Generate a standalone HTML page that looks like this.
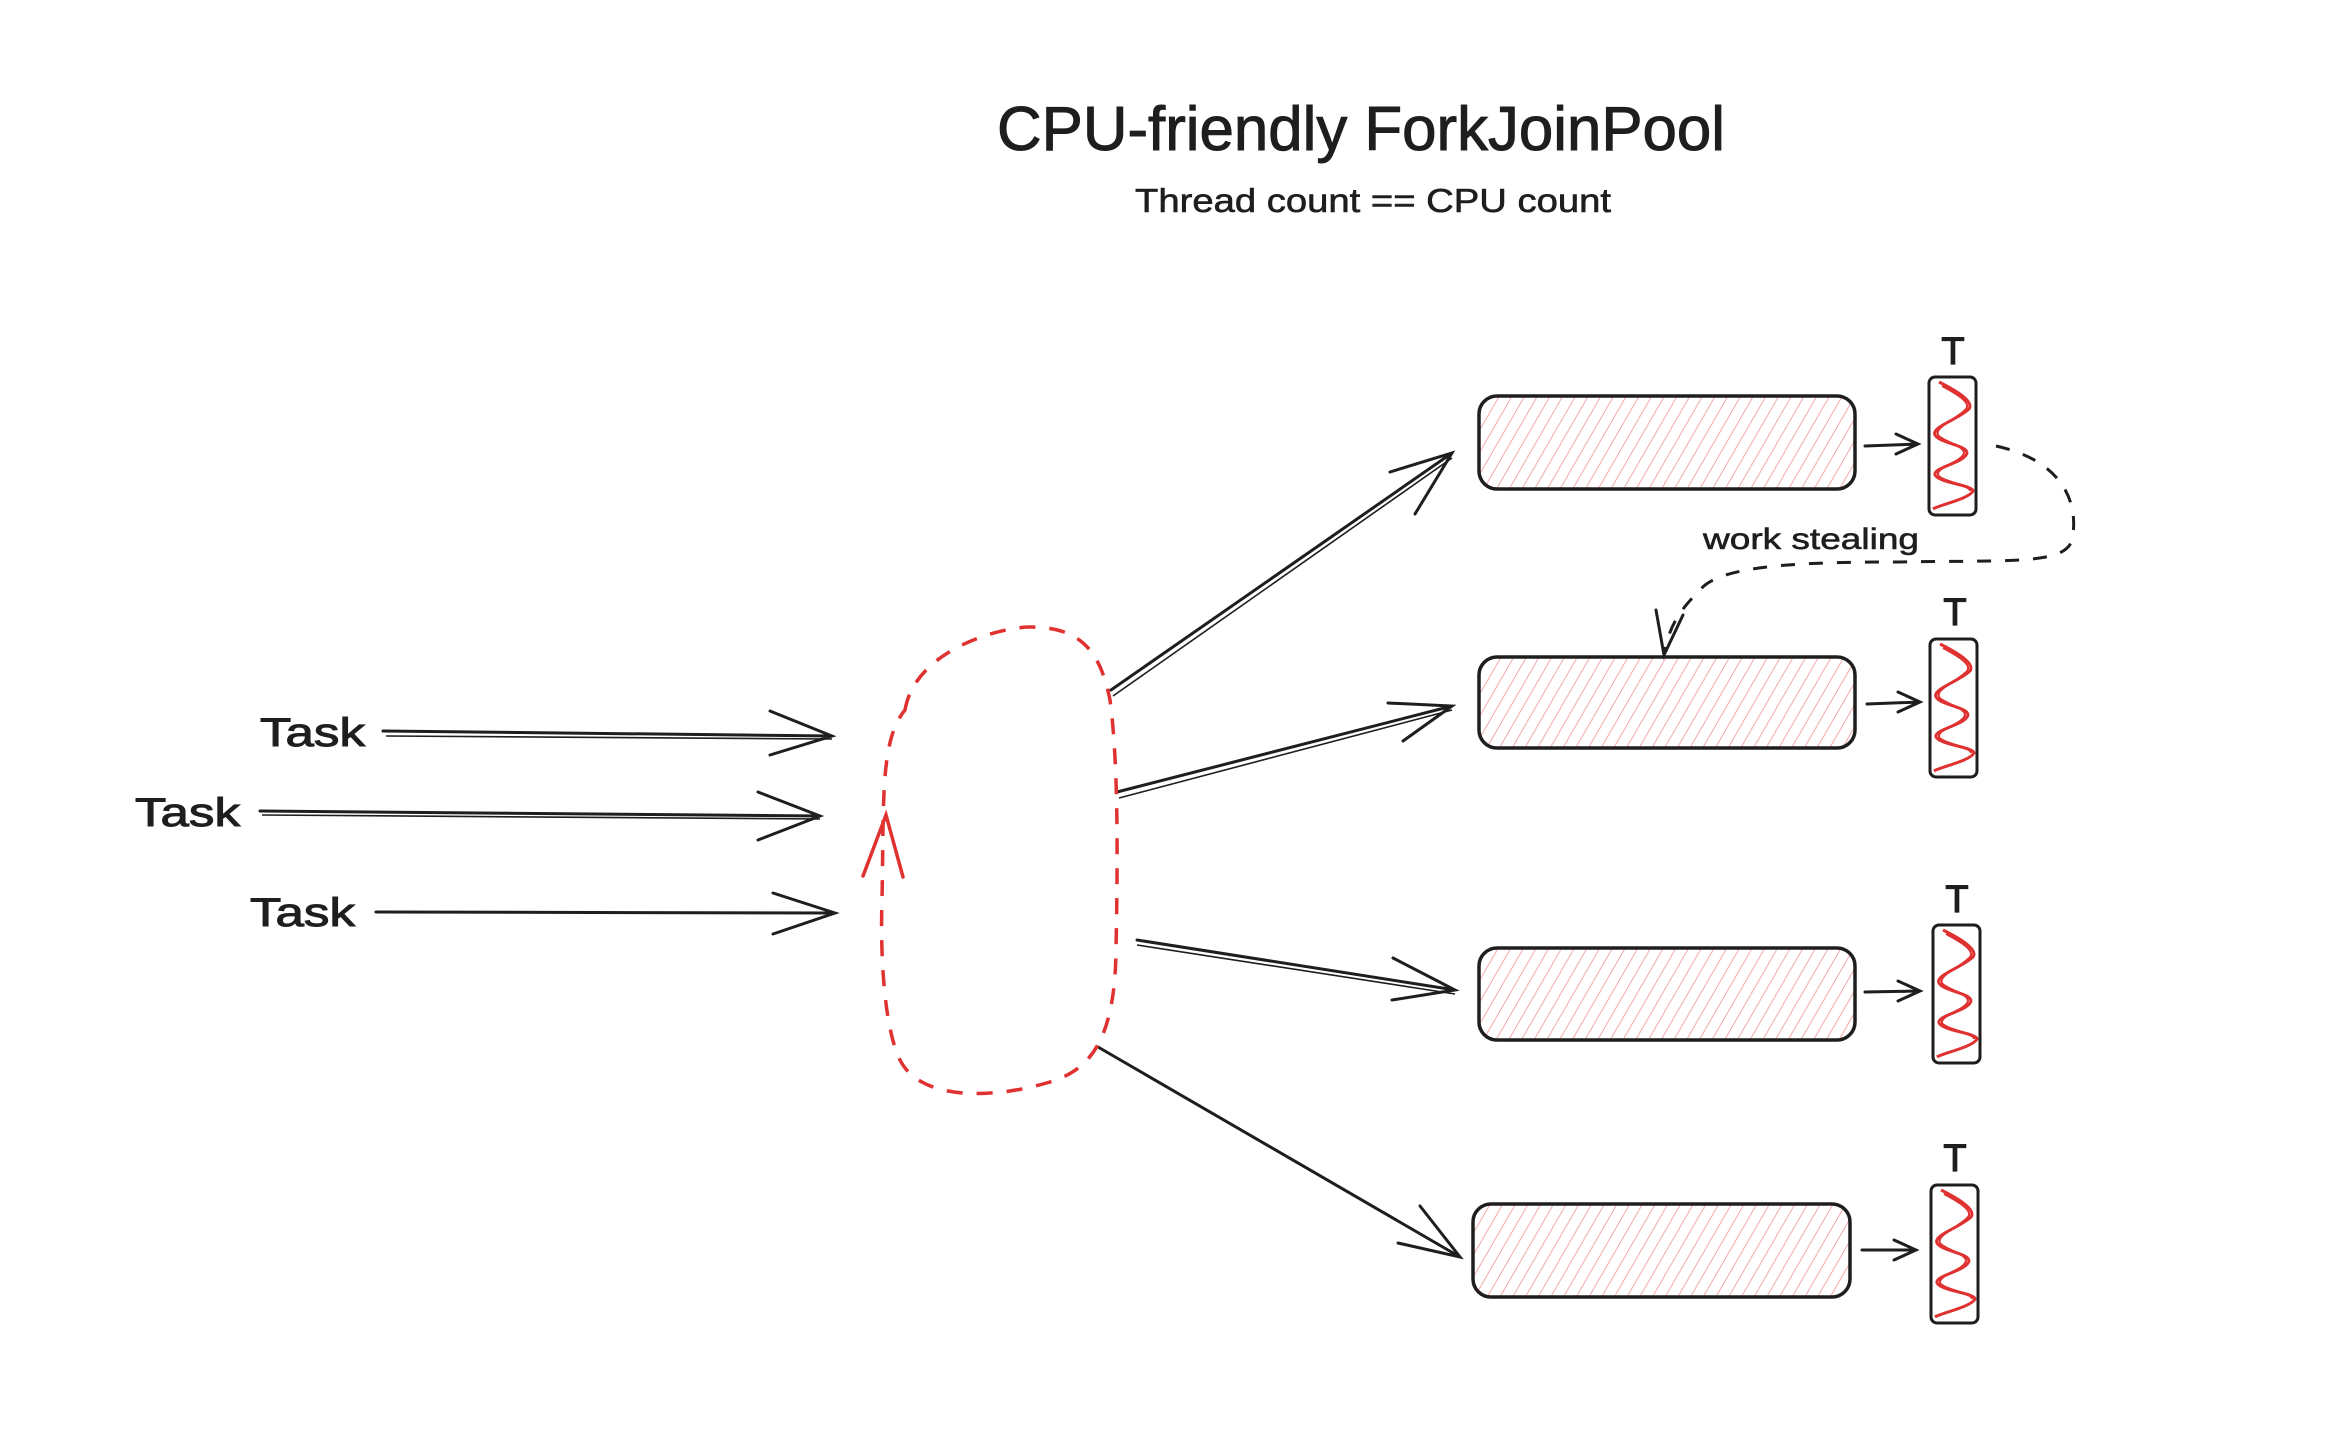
<!DOCTYPE html>
<html><head><meta charset="utf-8"><style>
html,body{margin:0;padding:0;background:#fff}
svg{display:block}
text{font-family:"Liberation Sans",sans-serif;fill:#1e1e1e}
</style></head><body>
<svg width="2344" height="1454" viewBox="0 0 2344 1454" xmlns="http://www.w3.org/2000/svg">
<defs>
<pattern id="h" width="11" height="11" patternUnits="userSpaceOnUse" patternTransform="rotate(30)">
<line x1="0" y1="0" x2="0" y2="11" stroke="#f3a9a9" stroke-width="2"/>
</pattern>
<g id="thr">
<rect x="0" y="0" width="47" height="138" rx="6" fill="#fff" stroke="#1e1e1e" stroke-width="3"/>
<path d="M10 5 C 30 15, 45 25, 40 32 C 30 42, 2 50, 6 58 C 10 66, 38 68, 38 76 C 36 86, 4 90, 6 98 C 10 106, 44 108, 44 114 C 40 122, 10 128, 4 132" fill="none" stroke="#e03131" stroke-width="3"/>
<path d="M13 9 C 30 18, 42 26, 37 32 C 28 42, 5 50, 9 58 C 12 64, 35 68, 35 76 C 33 85, 7 90, 9 98 C 12 104, 41 108, 41 114" fill="none" stroke="#e03131" stroke-width="2"/>
</g>
</defs>

<text x="1361" y="150" font-size="62" text-anchor="middle" textLength="728" lengthAdjust="spacingAndGlyphs" stroke="#1e1e1e" stroke-width="1">CPU-friendly ForkJoinPool</text>
<text x="1373" y="212" font-size="33" text-anchor="middle" textLength="476" lengthAdjust="spacingAndGlyphs" stroke="#1e1e1e" stroke-width="0.6">Thread count == CPU count</text>

<!-- queues -->
<g stroke="#1e1e1e" stroke-width="3.5">
<rect x="1479" y="396" width="376" height="93" rx="18" fill="url(#h)"/>
<rect x="1479" y="657" width="376" height="91" rx="18" fill="url(#h)"/>
<rect x="1479" y="948" width="376" height="92" rx="18" fill="url(#h)"/>
<rect x="1473" y="1204" width="377" height="93" rx="18" fill="url(#h)"/>
</g>

<!-- threads -->
<use href="#thr" x="1929" y="377"/>
<use href="#thr" x="1930" y="639"/>
<use href="#thr" x="1933" y="925"/>
<use href="#thr" x="1931" y="1185"/>
<g font-size="38" text-anchor="middle" stroke="#1e1e1e" stroke-width="1.2">
<text x="1953" y="364">T</text>
<text x="1955" y="625">T</text>
<text x="1957" y="912">T</text>
<text x="1955" y="1171">T</text>
</g>

<g fill="none" stroke="#1e1e1e" stroke-width="3" stroke-linecap="round">
<path d="M1865 446 L1918 444 M1896 434 L1918 444 L1896 454"/>
<path d="M1867 704 L1920 702 M1898 692 L1920 702 L1898 712"/>
<path d="M1865 992 L1920 991 M1898 981 L1920 991 L1898 1001"/>
<path d="M1862 1250 L1916 1250 M1894 1240 L1916 1250 L1894 1260"/>
<path d="M383 731 L832 736 M770 711 L832 736 L770 755"/>
<path d="M260 811 L820 816 M758 792 L820 816 L758 840"/>
<path d="M376 912 L835 913 M773 893 L835 913 L773 934"/>
<path d="M1111 690 L1452 453 M1390 472 L1452 453 L1415 514"/>
<path d="M1117 792 L1452 706 M1388 703 L1452 706 L1403 741"/>
<path d="M1137 940 L1455 990 M1393 958 L1455 990 L1392 1000"/>
<path d="M1098 1047 L1460 1257 M1398 1243 L1460 1257 L1420 1206"/>
</g>
<g fill="none" stroke="#1e1e1e" stroke-width="1.6">
<path d="M1113 696 L1452 458"/>
<path d="M1119 798 L1452 710"/>
<path d="M1137 945 L1455 994"/>
<path d="M386 736 L832 739"/>
<path d="M262 815 L820 819"/>
</g>

<path d="M905 710 C 915 650, 1000 627, 1030 627 C 1080 627, 1100 650, 1110 700 C 1118 760, 1118 850, 1116 950 C 1115 1040, 1090 1070, 1050 1082 C 990 1100, 920 1100, 900 1060 C 885 1030, 880 960, 882 900 C 884 800, 880 740, 905 710 Z" fill="none" stroke="#e03131" stroke-width="3.5" stroke-dasharray="16 14"/>
<path d="M863 876 L886 815 L903 877" fill="none" stroke="#e03131" stroke-width="3.5" stroke-linecap="round"/>

<path d="M1996 446 C 2060 460, 2080 500, 2072 540 C 2065 565, 2010 560, 1900 562 C 1800 562, 1720 565, 1700 590 C 1680 610, 1670 625, 1665 650" fill="none" stroke="#1e1e1e" stroke-width="3" stroke-dasharray="14 14"/>
<path d="M1656 610 L1664 655 L1683 615" fill="none" stroke="#1e1e1e" stroke-width="3" stroke-linecap="round"/>
<text x="1811" y="549" font-size="30" text-anchor="middle" textLength="216" lengthAdjust="spacingAndGlyphs" stroke="#1e1e1e" stroke-width="0.6">work stealing</text>

<g font-size="40" stroke="#1e1e1e" stroke-width="1">
<text x="260" y="746" textLength="105" lengthAdjust="spacingAndGlyphs">Task</text>
<text x="135" y="826" textLength="105" lengthAdjust="spacingAndGlyphs">Task</text>
<text x="250" y="926" textLength="105" lengthAdjust="spacingAndGlyphs">Task</text>
</g>
</svg>
</body></html>
